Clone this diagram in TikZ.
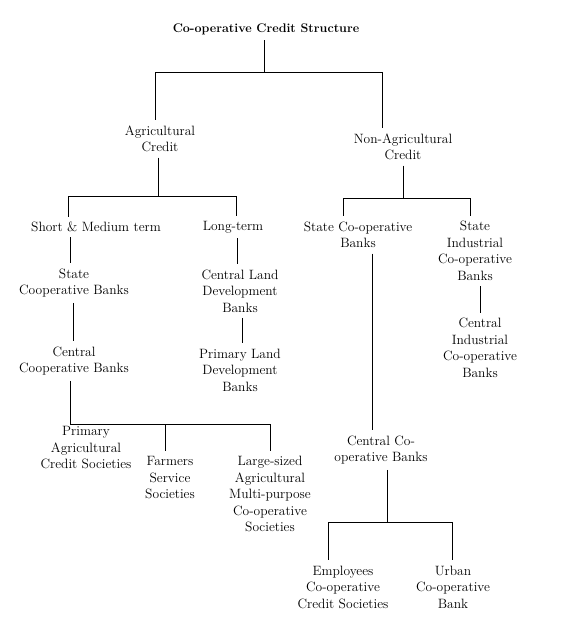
\documentclass[tikz,border=0pt]{standalone}
\usepackage{tikz}

\begin{document}
\begin{tikzpicture}[x=1pt, y=-1pt, line width=0.9pt,
    lbl/.style={align=center, inner xsep=0pt, inner ysep=5pt,
      font=\fontsize{13.5}{16.5}\selectfont}]
		%%%%% START %%%%%
		\useasboundingbox (0, 0) rectangle (560, 623);
		
		\node[lbl, font=\fontsize{12.5}{16.5}\selectfont\bfseries] (title) at (266, 29) {Co-operative Credit Structure};
		
		\node[lbl] (agri) at (160, 139) {Agricultural\\Credit};
		\node[lbl] (nagri) at (403, 147) {Non-Agricultural\\Credit};
		
		\node[lbl] (short) at (96, 227) {Short \& Medium term};
		\node[lbl] (long) at (233, 227) {Long-term};
		\node[lbl] (stcoop) at (74, 283) {State\\Cooperative Banks};
		\node[lbl] (centland) at (240, 291) {Central Land\\Development\\Banks};
		\node[lbl] (centcoop) at (74, 361) {Central\\Cooperative Banks};
		\node[lbl] (primland) at (240, 370) {Primary Land\\Development\\Banks};
		
		\node[lbl] (primagri) at (86, 448) {Primary\\Agricultural\\Credit Societies};
		\node[lbl] (farmers) at (170, 478) {Farmers\\Service\\Societies};
		\node[lbl] (large) at (270, 494) {Large-sized\\Agricultural\\Multi-purpose\\Co-operative\\Societies};
		
		\node[lbl] (stco) at (358, 235) {State Co-operative\\Banks};
		\node[lbl] (stind) at (475, 251) {State\\Industrial\\Co-operative\\Banks};
		\node[lbl] (centind) at (480, 348) {Central\\Industrial\\Co-operative\\Banks};
		\node[lbl] (centco) at (381, 450) {Central Co-\\operative Banks};
		
		\node[lbl] (employees) at (343, 587) {Employees\\Co-operative\\Credit Societies};
		\node[lbl] (urban) at (453, 587) {Urban\\Co-operative\\Bank};
		
		\coordinate (topsplit) at (264, 72);
		\coordinate (agrisplit) at (158, 196);
		\coordinate (nagrisplit) at (403, 198);
		\coordinate (centcoopsplit) at (70, 424);
		\coordinate (centcosplit) at (387, 522);
		
		\draw ([xshift=-2pt]title.south) -- (topsplit);
		\draw (topsplit) -| ([xshift=-5pt]agri.north);
		\draw (topsplit) -| ([xshift=-21pt]nagri.north);
		
		\draw ([xshift=-2pt]agri.south) -- (agrisplit);
		\draw (agrisplit) -| ([xshift=-28pt]short.north);
		\draw (agrisplit) -| ([xshift=3pt]long.north);
		\draw ([xshift=-26pt]short.south) -- ([xshift=-4pt]stcoop.north);
		\draw ([xshift=4pt]long.south) -- ([xshift=-3pt]centland.north);
		\draw ([xshift=-1pt]stcoop.south) -- ([xshift=-1pt]centcoop.north);
		\draw ([xshift=2pt]centland.south) -- ([xshift=2pt]primland.north);
		
		\draw ([xshift=-4pt]centcoop.south) -- (centcoopsplit);
		\draw (centcoopsplit) -| ([xshift=-5pt]farmers.north);
		\draw (centcoopsplit) -| (large.north);
		
		\draw (nagri.south) -- (nagrisplit);
		\draw (nagrisplit) -| ([xshift=-15pt]stco.north);
		\draw (nagrisplit) -| ([xshift=-5pt]stind.north);
		\draw ([xshift=14pt]stco.south) -- ([xshift=-9pt]centco.north);
		\draw ([xshift=5pt]stind.south) -- (centind.north);
		
		\draw ([xshift=6pt]centco.south) -- (centcosplit);
		\draw (centcosplit) -| ([xshift=-15pt]employees.north);
		\draw (centcosplit) -| ([xshift=-1pt]urban.north);
		%%%%% END %%%%%
\end{tikzpicture}
\end{document}
